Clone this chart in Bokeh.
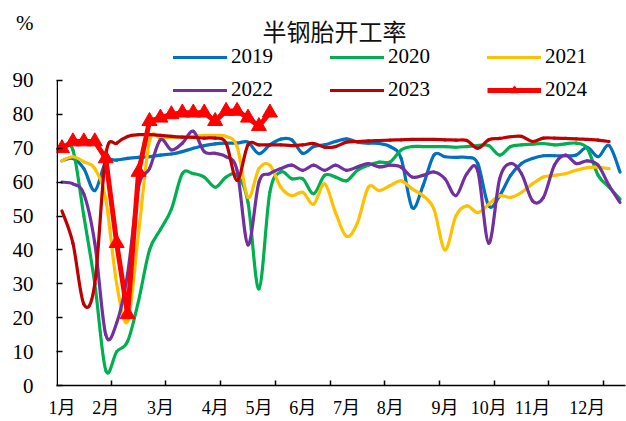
from bokeh.plotting import figure
from bokeh.models import Range1d, FixedTicker, Label, Legend, LegendItem
from bokeh.embed import file_html
from bokeh.resources import INLINE

# ---------------- data ----------------
weeks = list(range(1, 53))
month_labels = ["1月", "2月", "3月", "4月", "5月", "6月", "7月", "8月", "9月", "10月", "11月", "12月"]
month_label_weeks = [1, 5, 10, 15, 19, 23, 27, 31, 36, 40, 44, 49]
y_ticks = [0, 10, 20, 30, 40, 50, 60, 70, 80, 90]
unit_label = "%"
title_text = "半钢胎开工率"

s2019 = [66.3, 67, 64, 57.5, 66, 66.5, 67, 67.3, 67.5, 68, 68.3, 69, 70, 70.8, 71.3, 71.5, 71.5, 71.8,
         68.4, 71, 72.7, 72.5, 68.5, 70.5, 71, 72, 72.8, 71.8, 71.5, 71.4, 70.5, 67, 52.5, 59, 68,
         67.5, 67.3, 67.3, 65.5, 53, 56, 62, 65.5, 67, 67.8, 67.8, 67.8, 68, 70.3, 67.5, 70.8, 63]
s2020 = [70, 69.5, 50, 30, 4.5, 10, 13, 25, 40, 46, 52, 62.5, 62.5, 61.5, 58.5, 61.5, 62, 54,
         28.5, 57, 63, 61, 61, 56.6, 62, 61.5, 60.4, 63.5, 65, 65.9, 66, 69.5, 70.5, 70.5, 70.5,
         70.5, 70.3, 70.5, 70.8, 70.8, 68, 70.5, 71, 71.2, 71.4, 71, 71.3, 71.5, 70, 62, 58.5, 55]
s2021 = [66.3, 67.5, 66, 64, 55, 30, 19, 45, 72, 73, 73.2, 73.3, 73.5, 73.8, 73.8, 73.5, 70.5,
         55.5, 64, 65, 58.5, 56, 57, 53.5, 59.5, 51, 44, 48, 58.5, 57.5, 59, 60.4, 58, 56, 52,
         40, 50, 53, 51, 53.5, 56, 55.5, 57, 59.5, 61.5, 62, 62.5, 63.5, 64.3, 64.4, 64]
s2022 = [60, 59.5, 56.5, 42, 15, 18.5, 33, 58.5, 64, 72.5, 69.5, 71.5, 75, 69, 68.5, 67.5, 63.5,
         41.5, 60, 62.5, 64, 65, 63.5, 65, 63.5, 65, 63.5, 64.5, 65.5, 64.5, 65, 64.4, 61.5, 62,
         63, 61, 56, 62.5, 63.3, 42, 61, 65.5, 62.5, 54.5, 55.5, 65, 68, 65.5, 66.3, 65, 59, 54]
s2023 = [51.5, 42, 24, 30, 68, 71.5, 73.5, 74, 74, 73.8, 73.5, 73.3, 73.2, 73, 73, 71.5, 60.5,
         71, 71, 71, 71, 70.8, 71, 71.4, 70.3, 70.5, 71.8, 72, 72.2, 72.3, 72.4, 72.5, 72.6, 72.6,
         72.6, 72.5, 72.4, 72.3, 70, 72.5, 72.9, 73.4, 73.5, 72, 73, 73, 72.9, 72.8, 72.6, 72.4, 72]
s2024 = [70, 72, 72, 72, 67, 42, 21, 63, 78, 79, 80, 80.5, 80.5, 80.5, 78, 81, 81, 79, 76.5, 80.5]

series = [("2019", s2019, "#0070C0"), ("2020", s2020, "#00B050"), ("2021", s2021, "#FFC000"),
          ("2022", s2022, "#7030A0"), ("2023", s2023, "#C00000")]

SERIF = "'Liberation Serif', 'Noto Sans CJK SC'"

# geometry (pixels)
W, H = 626, 421
LEFT, RIGHT, BOTTOM = 56, 1, 36
PX_PER_UNIT = 3.389
X0, X1 = 0.5, 52.5
Y_TOP = (H - BOTTOM) / PX_PER_UNIT          # frame reaches the top of the figure
UNIT_POS = (H - BOTTOM - 22) / PX_PER_UNIT   # where the "%" sits
PX_PER_WEEK = (W - LEFT - RIGHT) / (X1 - X0)


def smooth_segments(xs, ys):
    """Bezier control points (Excel-style smoothed line) between consecutive data points."""
    n = len(xs)
    d = dict(x0=[], y0=[], x1=[], y1=[], cx0=[], cy0=[], cx1=[], cy1=[])
    for i in range(n - 1):
        a = i - 1 if i > 0 else i
        b = i + 2 if i + 2 < n else i + 1
        d["x0"].append(xs[i]); d["y0"].append(ys[i])
        d["x1"].append(xs[i + 1]); d["y1"].append(ys[i + 1])
        d["cx0"].append(xs[i] + (xs[i + 1] - xs[a]) / 6.0)
        d["cy0"].append(ys[i] + (ys[i + 1] - ys[a]) / 6.0)
        d["cx1"].append(xs[i + 1] - (xs[b] - xs[i]) / 6.0)
        d["cy1"].append(ys[i + 1] - (ys[b] - ys[i]) / 6.0)
    return d


p = figure(width=W, height=H, output_backend="svg", toolbar_location=None,
           x_range=Range1d(X0, X1), y_range=Range1d(0, Y_TOP),
           min_border_left=LEFT, min_border_right=RIGHT, min_border_top=0, min_border_bottom=BOTTOM)
p.outline_line_color = None
p.xgrid.visible = False
p.ygrid.visible = False
p.background_fill_color = "white"

items = []
for name, vals, color in series:
    xs = weeks[:len(vals)]
    r = p.bezier(**smooth_segments(xs, vals), line_color=color, line_width=3.2, line_cap="round")
    items.append(LegendItem(label=name, renderers=[r]))

x24 = weeks[:len(s2024)]
l24 = p.line(x24, s2024, line_color="#FF0000", line_width=5, line_join="round")
m24 = p.scatter(x24, s2024, marker="triangle", size=15, fill_color="#FF0000", line_color="#FF0000")
items.append(LegendItem(label="2024", renderers=[l24, m24]))

# x axis
xa = p.xaxis[0]
xa.ticker = FixedTicker(ticks=month_label_weeks, minor_ticks=[5.5 + 5 * k for k in range(10)])
xa.major_label_overrides = {w: lab for w, lab in zip(month_label_weeks, month_labels)}
xa.major_tick_in = 0
xa.major_tick_out = 0
xa.minor_tick_in = 5
xa.minor_tick_out = 0
xa.minor_tick_line_color = "black"
xa.minor_tick_line_width = 1.5
xa.axis_line_color = "black"
xa.axis_line_width = 1.5
xa.major_label_text_font = SERIF
xa.major_label_text_font_size = "18px"
xa.major_label_text_color = "black"
xa.major_label_standoff = 12

# y axis: value ticks (drawn as minor marks) plus the unit "%" as a label near the top
ya = p.yaxis[0]
ya.ticker = FixedTicker(ticks=y_ticks + [UNIT_POS], minor_ticks=y_ticks)
ya.major_label_overrides = {UNIT_POS: unit_label}
ya.major_tick_in = 0
ya.major_tick_out = 0
ya.minor_tick_in = 6
ya.minor_tick_out = 0
ya.minor_tick_line_color = "black"
ya.minor_tick_line_width = 1.5
ya.axis_line_color = None
ya.major_label_text_font = SERIF
ya.major_label_text_font_size = "21px"
ya.major_label_text_color = "black"
ya.major_label_standoff = 23

# the visible y axis line only spans 0..90
xline = X0 + 0.75 / PX_PER_WEEK
p.segment(x0=[xline], y0=[y_ticks[0]], x1=[xline], y1=[y_ticks[-1]], line_color="black", line_width=1.5)

# title
p.add_layout(Label(x=X0 + (334 - LEFT) / PX_PER_WEEK, y=(H - BOTTOM - 30) / PX_PER_UNIT,
                   text=title_text, text_font="Noto Sans CJK SC", text_font_size="24px",
                   text_color="#111111", text_align="center", text_baseline="middle"))

legend = Legend(items=items, ncols=3, location=(117, 283), orientation="horizontal",
                glyph_width=54, glyph_height=20, label_width=91, label_height=20,
                label_standoff=4, spacing=8, padding=0, margin=0,
                border_line_color=None, background_fill_alpha=0,
                label_text_font="Liberation Serif", label_text_font_size="21px",
                label_text_color="black")
p.add_layout(legend)

open("out.html", "w").write(file_html(p, INLINE))
